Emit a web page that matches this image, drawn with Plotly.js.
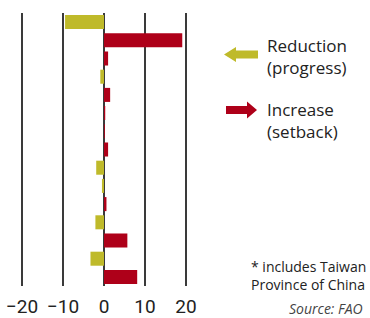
<!DOCTYPE html>
<html>
<head>
<meta charset="utf-8">
<script src="https://cdn.plot.ly/plotly-3.0.1.min.js"></script>
<style>html,body{margin:0;padding:0;background:#fff;}#chart{width:370px;height:318px;}</style>
</head>
<body>
<div id="chart"></div>
<script>
// Data (category names are cropped out of the reference; placeholders, not displayed)
const categories = ["Row 1","Row 2","Row 3","Row 4","Row 5","Row 6","Row 7","Row 8","Row 9","Row 10","Row 11","Row 12","Row 13","Row 14","Row 15"];
const changes = [-9.5, 19.1, 1.0, -0.9, 1.5, 0.3, 0.2, 1.0, -1.9, -0.5, 0.6, -2.1, 5.7, -3.3, 8.1];
const tickValues = [-20, -10, 0, 10, 20];
const tickLabels = ["\u221220", "\u221210", "0", "10", "20"];
const legendLabels = ["Reduction<br>(progress)", "Increase<br>(setback)"];
const footnote = "* includes Taiwan<br>Province of China";
const sourceText = "<i>Source: FAO</i>";

const YELLOW = "#BFBA2A", RED = "#AE0019";
const W = 370, H = 318;
const M = {l: 20, r: 182, t: 13, b: 32};
const pw = W - M.l - M.r, ph = H - M.t - M.b;
const px = x => (x - M.l) / pw;
const py = y => 1 - (y - M.t) / ph;

function path(pts) {
  return "M" + pts.map(p => px(p[0]) + "," + py(p[1])).join(" L") + " Z";
}

const trace = {
  type: "bar",
  orientation: "h",
  y: categories,
  x: changes,
  marker: {color: changes.map(v => v < 0 ? YELLOW : RED)},
  hoverinfo: "x+y"
};

const TXT = "'Open Sans', Roboto, sans-serif";

const layout = {
  width: W, height: H,
  margin: M,
  paper_bgcolor: "#fff", plot_bgcolor: "#fff",
  showlegend: false,
  bargap: 0.23,
  font: {family: "Roboto, 'DejaVu Sans', sans-serif", color: "#222"},
  xaxis: {
    range: [-20.5, 20.5],
    tickvals: tickValues, ticktext: tickLabels,
    showgrid: true, gridcolor: "#3a3a3a", gridwidth: 1.5,
    zeroline: true, zerolinecolor: "#3a3a3a", zerolinewidth: 1.5,
    showline: false,
    ticks: "outside", ticklen: 3, tickcolor: "rgba(0,0,0,0)",
    tickfont: {size: 19, color: "#222"},
    fixedrange: true
  },
  yaxis: {
    type: "category",
    categoryorder: "array", categoryarray: categories,
    autorange: "reversed",
    showticklabels: false, showgrid: false, zeroline: false, showline: false,
    fixedrange: true
  },
  shapes: [
    {type: "path", xref: "paper", yref: "paper", line: {width: 0}, fillcolor: YELLOW,
     path: path([[224,54.5],[236,47],[236,50.5],[258,50.5],[258,58.5],[236,58.5],[236,62]])},
    {type: "path", xref: "paper", yref: "paper", line: {width: 0}, fillcolor: RED,
     path: path([[226,106],[247,106],[247,101.5],[257,110],[247,118.5],[247,114],[226,114]])}
  ],
  annotations: [
    {xref: "paper", yref: "paper", x: px(265), y: py(56), xanchor: "left", yanchor: "middle",
     text: legendLabels[0], showarrow: false, align: "left", font: {family: TXT, size: 17, color: "#222"}},
    {xref: "paper", yref: "paper", x: px(265), y: py(121), xanchor: "left", yanchor: "middle",
     text: legendLabels[1], showarrow: false, align: "left", font: {family: TXT, size: 17, color: "#222"}},
    {xref: "paper", yref: "paper", x: px(249), y: py(275), xanchor: "left", yanchor: "middle",
     text: footnote, showarrow: false, align: "left", font: {family: TXT, size: 14, color: "#222"}},
    {xref: "paper", yref: "paper", x: px(287), y: py(308), xanchor: "left", yanchor: "middle",
     text: sourceText, showarrow: false, align: "left", font: {family: TXT, size: 14, color: "#444"}}
  ]
};

Plotly.newPlot("chart", [trace], layout, {displayModeBar: false, staticPlot: true});
</script>
</body>
</html>
